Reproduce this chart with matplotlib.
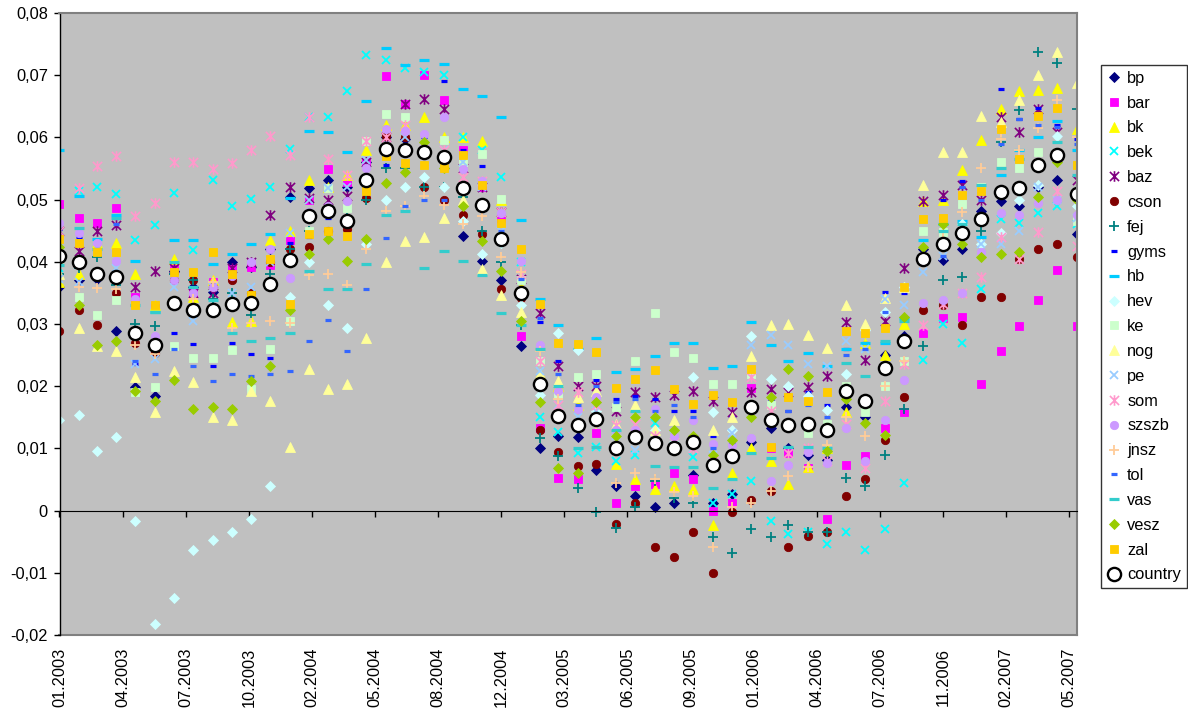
import numpy as np
import pandas as pd
import matplotlib
matplotlib.use("Agg")
import matplotlib.pyplot as plt
import matplotlib.dates as mdates
from matplotlib.path import Path
from matplotlib.ticker import FuncFormatter, MultipleLocator, FixedLocator

plt.rcParams["font.family"] = ["Liberation Sans", "DejaVu Sans"]

# monthly observations, Jan 2003 - Jun 2007
months = pd.date_range("2003-01-01", "2007-06-01", freq="MS")

bp = [
    0.0360, 0.0370, 0.0372, 0.0288, 0.0199, 0.0185, 0.0385, 0.0360, 0.0352, 0.0399,
    0.0392, 0.0420, 0.0504, 0.0519, 0.0531, 0.0520, 0.0560, 0.0600, 0.0598, 0.0582,
    0.0560, 0.0442, 0.0402, 0.0370, 0.0264, 0.0101, 0.0120, 0.0118, 0.0066, 0.0039,
    0.0023, 0.0005, 0.0013, 0.0058, 0.0013, 0.0026, 0.0110, 0.0132, 0.0100, 0.0090,
    0.0082, 0.0167, 0.0150, 0.0250, 0.0280, 0.0420, 0.0403, 0.0421, 0.0482, 0.0498,
    0.0489, 0.0520, 0.0531, 0.0444]
bar = [
    0.0493, 0.0471, 0.0463, 0.0486, 0.0343, 0.0325, 0.0390, 0.0350, 0.0368, 0.0389,
    0.0392, 0.0395, 0.0435, 0.0500, 0.0549, 0.0529, 0.0560, 0.0699, 0.0654, 0.0701,
    0.0660, 0.0580, 0.0520, 0.0470, 0.0280, 0.0132, 0.0053, 0.0051, 0.0124, 0.0013,
    0.0039, 0.0042, 0.0060, 0.0051, 0.0000, 0.0013, 0.0197, 0.0100, 0.0093, 0.0068,
    -0.0013, 0.0073, 0.0088, 0.0133, 0.0158, 0.0285, 0.0310, 0.0312, 0.0203, 0.0257,
    0.0296, 0.0338, 0.0387, 0.0296]
bk = [
    0.0367, 0.0380, 0.0430, 0.0431, 0.0380, 0.0330, 0.0405, 0.0343, 0.0370, 0.0304,
    0.0305, 0.0435, 0.0450, 0.0532, 0.0520, 0.0540, 0.0580, 0.0620, 0.0620, 0.0632,
    0.0600, 0.0600, 0.0595, 0.0500, 0.0360, 0.0220, 0.0200, 0.0170, 0.0160, 0.0075,
    0.0051, 0.0035, 0.0039, 0.0035, -0.0023, 0.0060, 0.0100, 0.0080, 0.0042, 0.0070,
    0.0100, 0.0158, 0.0270, 0.0250, 0.0300, 0.0498, 0.0500, 0.0547, 0.0596, 0.0646,
    0.0675, 0.0677, 0.0680, 0.0614]
bek = [
    0.0390, 0.0514, 0.0521, 0.0509, 0.0435, 0.0459, 0.0510, 0.0419, 0.0532, 0.0489,
    0.0501, 0.0520, 0.0582, 0.0632, 0.0632, 0.0675, 0.0733, 0.0725, 0.0711, 0.0705,
    0.0700, 0.0600, 0.0580, 0.0536, 0.0400, 0.0151, 0.0127, 0.0093, 0.0103, 0.0080,
    0.0090, 0.0141, 0.0100, 0.0086, 0.0013, 0.0026, 0.0048, -0.0017, -0.0037, -0.0035,
    -0.0053, -0.0034, -0.0064, -0.0029, 0.0045, 0.0242, 0.0300, 0.0270, 0.0356, 0.0469,
    0.0463, 0.0479, 0.0490, 0.0460]
baz = [
    0.0450, 0.0418, 0.0450, 0.0459, 0.0360, 0.0386, 0.0390, 0.0350, 0.0350, 0.0390,
    0.0399, 0.0476, 0.0521, 0.0502, 0.0500, 0.0505, 0.0560, 0.0601, 0.0654, 0.0662,
    0.0646, 0.0550, 0.0520, 0.0480, 0.0373, 0.0318, 0.0232, 0.0200, 0.0200, 0.0160,
    0.0190, 0.0182, 0.0186, 0.0193, 0.0177, 0.0158, 0.0190, 0.0195, 0.0190, 0.0199,
    0.0217, 0.0304, 0.0242, 0.0305, 0.0390, 0.0498, 0.0508, 0.0524, 0.0500, 0.0632,
    0.0608, 0.0645, 0.0608, 0.0532]
cson = [
    0.0289, 0.0322, 0.0298, 0.0350, 0.0270, 0.0254, 0.0370, 0.0371, 0.0360, 0.0370,
    0.0350, 0.0400, 0.0421, 0.0424, 0.0450, 0.0453, 0.0502, 0.0603, 0.0600, 0.0521,
    0.0500, 0.0476, 0.0444, 0.0357, 0.0341, 0.0130, 0.0095, 0.0071, 0.0075, -0.0021,
    0.0013, -0.0058, -0.0075, -0.0035, -0.0100, -0.0003, 0.0017, 0.0032, -0.0058, -0.0041,
    -0.0035, 0.0024, 0.0051, 0.0113, 0.0182, 0.0323, 0.0330, 0.0299, 0.0343, 0.0343,
    0.0405, 0.0421, 0.0428, 0.0407]
fej = [
    0.0380, 0.0390, 0.0408, 0.0362, 0.0300, 0.0296, 0.0380, 0.0370, 0.0340, 0.0350,
    0.0315, 0.0380, 0.0420, 0.0450, 0.0480, 0.0470, 0.0500, 0.0550, 0.0550, 0.0520,
    0.0520, 0.0504, 0.0450, 0.0400, 0.0299, 0.0116, 0.0087, 0.0037, -0.0003, -0.0028,
    0.0005, 0.0047, 0.0020, 0.0013, -0.0042, -0.0068, -0.0030, -0.0043, -0.0023, -0.0035,
    -0.0035, 0.0053, 0.0039, 0.0090, 0.0164, 0.0264, 0.0370, 0.0376, 0.0450, 0.0592,
    0.0644, 0.0738, 0.0720, 0.0646]
gyms = [
    0.0453, 0.0440, 0.0430, 0.0470, 0.0235, 0.0270, 0.0285, 0.0268, 0.0232, 0.0270,
    0.0251, 0.0246, 0.0430, 0.0440, 0.0470, 0.0460, 0.0540, 0.0555, 0.0580, 0.0600,
    0.0690, 0.0580, 0.0554, 0.0460, 0.0370, 0.0304, 0.0240, 0.0165, 0.0210, 0.0180,
    0.0185, 0.0180, 0.0160, 0.0160, 0.0120, 0.0150, 0.0220, 0.0180, 0.0160, 0.0190,
    0.0170, 0.0260, 0.0270, 0.0352, 0.0350, 0.0470, 0.0500, 0.0530, 0.0510, 0.0678,
    0.0630, 0.0648, 0.0620, 0.0598]
hb = [
    0.0579, 0.0506, 0.0437, 0.0476, 0.0402, 0.0320, 0.0435, 0.0435, 0.0397, 0.0413,
    0.0429, 0.0444, 0.0502, 0.0611, 0.0609, 0.0576, 0.0658, 0.0743, 0.0716, 0.0725,
    0.0718, 0.0678, 0.0666, 0.0633, 0.0468, 0.0340, 0.0299, 0.0260, 0.0278, 0.0223,
    0.0228, 0.0248, 0.0270, 0.0270, 0.0230, 0.0232, 0.0304, 0.0267, 0.0240, 0.0253,
    0.0233, 0.0260, 0.0270, 0.0270, 0.0310, 0.0435, 0.0460, 0.0466, 0.0440, 0.0540,
    0.0580, 0.0600, 0.0627, 0.0580]
hev = [
    0.0145, 0.0154, 0.0096, 0.0118, -0.0017, -0.0183, -0.0141, -0.0064, -0.0047, -0.0035,
    -0.0013, 0.0039, 0.0344, 0.0399, 0.0331, 0.0293, 0.0429, 0.0500, 0.0520, 0.0536,
    0.0521, 0.0466, 0.0412, 0.0430, 0.0330, 0.0186, 0.0286, 0.0259, 0.0160, 0.0120,
    0.0150, 0.0130, 0.0110, 0.0215, 0.0158, 0.0130, 0.0281, 0.0212, 0.0200, 0.0185,
    0.0161, 0.0220, 0.0290, 0.0320, 0.0360, 0.0410, 0.0430, 0.0460, 0.0428, 0.0446,
    0.0500, 0.0524, 0.0603, 0.0490]
ke = [
    0.0400, 0.0343, 0.0315, 0.0339, 0.0191, 0.0199, 0.0264, 0.0246, 0.0246, 0.0259,
    0.0196, 0.0260, 0.0305, 0.0450, 0.0518, 0.0487, 0.0595, 0.0637, 0.0632, 0.0580,
    0.0596, 0.0560, 0.0574, 0.0501, 0.0370, 0.0240, 0.0186, 0.0214, 0.0219, 0.0167,
    0.0240, 0.0317, 0.0255, 0.0246, 0.0204, 0.0203, 0.0220, 0.0170, 0.0140, 0.0125,
    0.0140, 0.0200, 0.0159, 0.0200, 0.0241, 0.0450, 0.0448, 0.0493, 0.0520, 0.0561,
    0.0550, 0.0577, 0.0570, 0.0466]
nog = [
    0.0380, 0.0293, 0.0264, 0.0257, 0.0214, 0.0159, 0.0225, 0.0206, 0.0150, 0.0145,
    0.0193, 0.0176, 0.0103, 0.0228, 0.0195, 0.0203, 0.0277, 0.0399, 0.0433, 0.0440,
    0.0471, 0.0500, 0.0388, 0.0347, 0.0320, 0.0220, 0.0209, 0.0183, 0.0193, 0.0140,
    0.0170, 0.0130, 0.0145, 0.0120, 0.0129, 0.0150, 0.0249, 0.0299, 0.0300, 0.0283,
    0.0262, 0.0331, 0.0300, 0.0341, 0.0360, 0.0523, 0.0577, 0.0577, 0.0635, 0.0625,
    0.0660, 0.0701, 0.0738, 0.0688]
pe = [
    0.0373, 0.0368, 0.0380, 0.0390, 0.0235, 0.0244, 0.0360, 0.0305, 0.0360, 0.0350,
    0.0360, 0.0400, 0.0447, 0.0500, 0.0518, 0.0520, 0.0563, 0.0580, 0.0600, 0.0580,
    0.0580, 0.0560, 0.0520, 0.0450, 0.0350, 0.0225, 0.0170, 0.0150, 0.0160, 0.0120,
    0.0098, 0.0110, 0.0122, 0.0100, 0.0090, 0.0125, 0.0266, 0.0283, 0.0266, 0.0236,
    0.0233, 0.0273, 0.0260, 0.0340, 0.0330, 0.0383, 0.0410, 0.0440, 0.0428, 0.0429,
    0.0450, 0.0520, 0.0500, 0.0470]
som = [
    0.0450, 0.0518, 0.0554, 0.0570, 0.0474, 0.0495, 0.0561, 0.0561, 0.0549, 0.0559,
    0.0580, 0.0603, 0.0572, 0.0632, 0.0566, 0.0540, 0.0595, 0.0600, 0.0620, 0.0580,
    0.0580, 0.0537, 0.0530, 0.0480, 0.0380, 0.0240, 0.0170, 0.0190, 0.0170, 0.0137,
    0.0140, 0.0120, 0.0110, 0.0100, 0.0080, 0.0090, 0.0214, 0.0160, 0.0093, 0.0100,
    0.0080, 0.0140, 0.0068, 0.0176, 0.0235, 0.0299, 0.0332, 0.0350, 0.0376, 0.0440,
    0.0405, 0.0448, 0.0514, 0.0426]
szszb = [
    0.0463, 0.0447, 0.0430, 0.0402, 0.0340, 0.0280, 0.0371, 0.0350, 0.0360, 0.0377,
    0.0399, 0.0421, 0.0374, 0.0480, 0.0490, 0.0498, 0.0550, 0.0614, 0.0611, 0.0606,
    0.0632, 0.0549, 0.0530, 0.0479, 0.0401, 0.0267, 0.0193, 0.0163, 0.0182, 0.0130,
    0.0130, 0.0164, 0.0120, 0.0145, 0.0107, 0.0106, 0.0116, 0.0048, 0.0074, 0.0095,
    0.0077, 0.0132, 0.0079, 0.0145, 0.0210, 0.0334, 0.0338, 0.0350, 0.0415, 0.0478,
    0.0476, 0.0495, 0.0500, 0.0476]
jnsz = [
    0.0400, 0.0360, 0.0358, 0.0357, 0.0267, 0.0251, 0.0331, 0.0340, 0.0368, 0.0293,
    0.0302, 0.0305, 0.0302, 0.0379, 0.0381, 0.0363, 0.0421, 0.0481, 0.0489, 0.0505,
    0.0492, 0.0461, 0.0473, 0.0408, 0.0383, 0.0257, 0.0180, 0.0140, 0.0140, 0.0045,
    0.0061, 0.0050, 0.0030, 0.0023, -0.0058, 0.0005, 0.0013, 0.0032, 0.0055, 0.0070,
    0.0105, 0.0150, 0.0120, 0.0200, 0.0241, 0.0400, 0.0448, 0.0480, 0.0550, 0.0598,
    0.0580, 0.0615, 0.0660, 0.0600]
tol = [
    0.0440, 0.0430, 0.0420, 0.0460, 0.0240, 0.0219, 0.0260, 0.0233, 0.0209, 0.0219,
    0.0217, 0.0220, 0.0225, 0.0272, 0.0307, 0.0257, 0.0357, 0.0439, 0.0490, 0.0500,
    0.0500, 0.0490, 0.0500, 0.0450, 0.0373, 0.0310, 0.0220, 0.0170, 0.0200, 0.0175,
    0.0180, 0.0160, 0.0170, 0.0150, 0.0100, 0.0110, 0.0160, 0.0150, 0.0160, 0.0170,
    0.0150, 0.0250, 0.0260, 0.0320, 0.0360, 0.0470, 0.0410, 0.0520, 0.0500, 0.0590,
    0.0630, 0.0620, 0.0617, 0.0590]
vas = [
    0.0395, 0.0455, 0.0420, 0.0470, 0.0330, 0.0320, 0.0400, 0.0360, 0.0338, 0.0286,
    0.0273, 0.0278, 0.0286, 0.0386, 0.0357, 0.0356, 0.0397, 0.0476, 0.0481, 0.0390,
    0.0418, 0.0401, 0.0379, 0.0317, 0.0299, 0.0260, 0.0200, 0.0100, 0.0103, 0.0130,
    0.0160, 0.0071, 0.0070, 0.0070, 0.0037, 0.0050, 0.0093, 0.0085, 0.0103, 0.0103,
    0.0100, 0.0237, 0.0217, 0.0272, 0.0305, 0.0400, 0.0450, 0.0460, 0.0524, 0.0550,
    0.0566, 0.0560, 0.0592, 0.0540]
vesz = [
    0.0424, 0.0331, 0.0266, 0.0273, 0.0193, 0.0177, 0.0210, 0.0164, 0.0167, 0.0163,
    0.0208, 0.0233, 0.0322, 0.0412, 0.0437, 0.0402, 0.0437, 0.0527, 0.0545, 0.0592,
    0.0550, 0.0489, 0.0433, 0.0386, 0.0305, 0.0174, 0.0068, 0.0061, 0.0174, 0.0120,
    0.0151, 0.0151, 0.0130, 0.0120, 0.0090, 0.0113, 0.0150, 0.0183, 0.0227, 0.0217,
    0.0096, 0.0180, 0.0141, 0.0122, 0.0312, 0.0424, 0.0460, 0.0429, 0.0408, 0.0412,
    0.0415, 0.0504, 0.0560, 0.0500]
zal = [
    0.0437, 0.0431, 0.0416, 0.0416, 0.0331, 0.0331, 0.0384, 0.0384, 0.0416, 0.0380,
    0.0347, 0.0405, 0.0332, 0.0444, 0.0450, 0.0441, 0.0514, 0.0570, 0.0559, 0.0556,
    0.0550, 0.0572, 0.0524, 0.0463, 0.0421, 0.0332, 0.0270, 0.0268, 0.0255, 0.0197,
    0.0212, 0.0226, 0.0196, 0.0172, 0.0186, 0.0174, 0.0228, 0.0103, 0.0182, 0.0176,
    0.0190, 0.0289, 0.0285, 0.0293, 0.0360, 0.0469, 0.0471, 0.0508, 0.0514, 0.0614,
    0.0566, 0.0635, 0.0648, 0.0556]
country = [
    0.0410, 0.0399, 0.0381, 0.0376, 0.0286, 0.0266, 0.0334, 0.0323, 0.0323, 0.0332,
    0.0333, 0.0365, 0.0403, 0.0473, 0.0481, 0.0466, 0.0531, 0.0582, 0.0579, 0.0576,
    0.0568, 0.0518, 0.0491, 0.0437, 0.0350, 0.0203, 0.0152, 0.0138, 0.0148, 0.0101,
    0.0118, 0.0109, 0.0101, 0.0111, 0.0074, 0.0087, 0.0167, 0.0145, 0.0137, 0.0140,
    0.0129, 0.0193, 0.0177, 0.0230, 0.0273, 0.0405, 0.0429, 0.0446, 0.0469, 0.0513,
    0.0519, 0.0556, 0.0572, 0.0509]

# asterisk marker: an x crossed by a vertical stroke
STAR = Path([(-1, -1), (1, 1), (-1, 1), (1, -1), (0, -1.15), (0, 1.15)],
            [Path.MOVETO, Path.LINETO, Path.MOVETO, Path.LINETO,
             Path.MOVETO, Path.LINETO])

# name, values, marker, colour, size, edge width, filled
series = [
    ("bp", bp, "D", "#000080", 4.8, 0.6, True),
    ("bar", bar, "s", "#FF00FF", 5.4, 0.6, True),
    ("bk", bk, "^", "#FFFF00", 6.6, 0.6, True),
    ("bek", bek, "x", "#00FFFF", 6.2, 1.3, False),
    ("baz", baz, STAR, "#800080", 7.6, 1.2, False),
    ("cson", cson, "o", "#800000", 6.0, 0.6, True),
    ("fej", fej, "+", "#008080", 7.0, 1.3, False),
    ("gyms", gyms, "_", "#0000FF", 3.8, 2.3, False),
    ("hb", hb, "_", "#00CCFF", 7.2, 2.3, False),
    ("hev", hev, "D", "#CCFFFF", 4.8, 0.6, True),
    ("ke", ke, "s", "#CCFFCC", 5.4, 0.6, True),
    ("nog", nog, "^", "#FFFF99", 6.6, 0.6, True),
    ("pe", pe, "x", "#99CCFF", 6.2, 1.3, False),
    ("som", som, STAR, "#FF99CC", 7.6, 1.2, False),
    ("szszb", szszb, "o", "#CC99FF", 6.0, 0.6, True),
    ("jnsz", jnsz, "+", "#FFCC99", 7.0, 1.3, False),
    ("tol", tol, "_", "#3366FF", 3.8, 2.3, False),
    ("vas", vas, "_", "#33CCCC", 7.2, 2.3, False),
    ("vesz", vesz, "D", "#99CC00", 4.8, 0.6, True),
    ("zal", zal, "s", "#FFCC00", 5.4, 0.6, True),
]

W, H = 1188, 713
fig = plt.figure(figsize=(W / 100, H / 100), dpi=100)
fig.patch.set_facecolor("white")
left, right, top, bottom = 59.5, 1076.7, 13, 635
ax = fig.add_axes([left / W, 1 - bottom / H, (right - left) / W, (bottom - top) / H])
ax.set_facecolor("#C0C0C0")

handles = []
for name, vals, mk, col, ms, mew, filled in series:
    h, = ax.plot(months, vals, linestyle="none", marker=mk, markersize=ms,
                 markerfacecolor=col if filled else "none",
                 markeredgecolor=col, markeredgewidth=mew, label=name)
    handles.append(h)
h, = ax.plot(months, country, linestyle="none", marker="o", markersize=9.5,
             markerfacecolor="white", markeredgecolor="black",
             markeredgewidth=1.7, label="country")
handles.append(h)

ax.set_xlim(months[0], months[-1])
ax.set_ylim(-0.02, 0.08)

# value axis
ax.yaxis.set_major_locator(MultipleLocator(0.01))
ax.yaxis.set_major_formatter(FuncFormatter(
    lambda v, _: "0" if abs(v) < 1e-9 else f"{v:.2f}".replace(".", ",")))
ax.tick_params(axis="y", direction="out", length=4.3, width=1, pad=4,
               labelsize=11.8, colors="black")

# date axis crosses at zero; labels sit below the plot area
tick_dates = [months[0] + pd.Timedelta(days=100 * k) for k in range(17)]
tick_nums = mdates.date2num(tick_dates)
ax.xaxis.set_major_locator(FixedLocator(tick_nums))
ax.spines["bottom"].set_position(("data", 0))
ax.spines["bottom"].set_color("black")
ax.tick_params(axis="x", direction="out", length=4, width=1, labelbottom=False)

sec = ax.secondary_xaxis("bottom")
sec.set_xticks(tick_nums)
sec.xaxis.set_major_formatter(mdates.DateFormatter("%m.%Y"))
sec.tick_params(axis="x", length=0, pad=9, labelsize=11.8, labelrotation=90)
sec.spines["bottom"].set_color("#808080")
sec.spines["bottom"].set_linewidth(1.5)

ax.spines["left"].set_color("black")
ax.spines["left"].set_linewidth(1)
for s in ("top", "right"):
    ax.spines[s].set_color("#808080")
    ax.spines[s].set_linewidth(1.5)

leg = fig.legend(handles=handles, loc="upper left",
                 bbox_to_anchor=(1101 / W, 1 - 65 / H), bbox_transform=fig.transFigure,
                 fontsize=11.8, frameon=True, fancybox=False, shadow=False,
                 borderpad=0.35, labelspacing=0.6, handlelength=0.9,
                 handletextpad=0.35, borderaxespad=0, numpoints=1)
leg.get_frame().set_edgecolor("black")
leg.get_frame().set_linewidth(1)

fig.savefig("out.png", dpi=100)
